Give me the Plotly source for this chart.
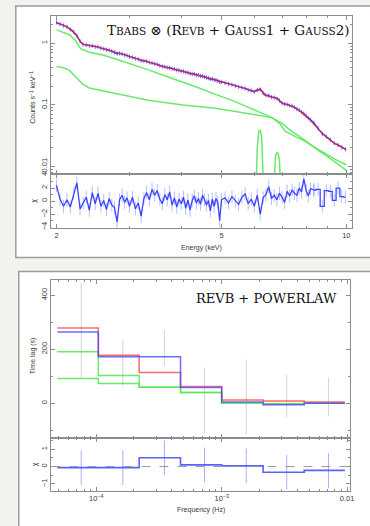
import math
import plotly.graph_objects as go

# ---------------- top panel: X-ray spectrum ----------------
energy = [2.00, 2.04, 2.08, 2.12, 2.16, 2.20, 2.24, 2.28, 2.32, 2.36, 2.40, 2.44, 2.48, 2.52, 2.56,
          2.60, 2.64, 2.68, 2.72, 2.76, 2.80, 2.84, 2.88, 2.92, 2.96, 3.00,
          3.05, 3.10, 3.15, 3.20, 3.25, 3.30, 3.35, 3.40, 3.45, 3.50, 3.55, 3.60, 3.65, 3.70,
          3.75, 3.80, 3.85, 3.90, 3.95, 4.00, 4.05, 4.10, 4.15, 4.20, 4.25, 4.30, 4.35, 4.40,
          4.45, 4.50, 4.55, 4.60, 4.65, 4.70, 4.75, 4.80, 4.85, 4.90, 4.95, 5.00,
          5.1, 5.2, 5.3, 5.4, 5.5, 5.6, 5.7, 5.8, 5.9, 6.0, 6.1, 6.2, 6.3, 6.4, 6.5, 6.6,
          6.7, 6.8, 6.9, 7.0, 7.1, 7.2, 7.3, 7.4, 7.5, 7.6, 7.7, 7.8, 7.9, 8.0, 8.1, 8.2,
          8.35, 8.55, 8.75, 8.95, 9.15, 9.35, 9.55, 9.75, 9.95]
counts = [2.20, 2.06, 1.95, 1.86, 1.69, 1.54, 1.34, 1.08, 0.96, 0.945, 0.905, 0.915, 0.878, 0.876,
          0.838, 0.821, 0.790, 0.774, 0.744, 0.720, 0.680, 0.690, 0.677, 0.649, 0.636, 0.608,
          0.594, 0.565, 0.553, 0.525, 0.522, 0.511, 0.490, 0.482, 0.465, 0.455, 0.437, 0.422,
          0.416, 0.405, 0.402, 0.386, 0.382, 0.369, 0.366, 0.356, 0.351, 0.339, 0.336, 0.323,
          0.321, 0.317, 0.307, 0.305, 0.296, 0.293, 0.286, 0.277, 0.273, 0.264, 0.264, 0.255,
          0.253, 0.247, 0.237, 0.237,
          0.229, 0.219, 0.214, 0.204, 0.196, 0.191, 0.185, 0.176, 0.172, 0.164, 0.176, 0.178,
          0.157, 0.144, 0.142, 0.134, 0.132, 0.127, 0.118, 0.107, 0.103, 0.102, 0.098, 0.0965,
          0.0908, 0.0858, 0.0825, 0.0762, 0.0722, 0.0662, 0.0608, 0.0572,
          0.0512, 0.0415, 0.0340, 0.0305, 0.0273, 0.0238, 0.0224, 0.0203, 0.0190]
chi = [2.4, 0.3, -0.8, 0.2, -0.9, 1.2, 2.8, -1.2, -0.3, 0.6, -1.4, 1.3, -0.4, 1.2, -0.8, 0.1,
       -1.3, 0.4, -0.6, -1.0, -3.2, 0.2, 0.9, -0.2, 0.5, -0.8,
       0.6, -1.2, -0.3, -2.3, 0.4, 1.3, 0.2, 1.8, 0.9, 1.6, 0.3, -0.4, 1.0, 0.2, 1.4, -0.6,
       0.5, -0.9, 0.3, -0.4, 0.6, -1.1, 0.2, -1.4, 0.1, 0.8, -0.3, 0.4, -0.5, 0.9, 0.2, -0.6,
       0.1, -1.5, 0.3, -0.8, 0.4, -0.2, -3.0, 0.2,
       0.5, -0.3, 0.7, 0.0, -0.5, 0.6, 1.1, -0.4, 0.3, -0.8, 0.9, -2.0, 0.5, 1.0, 2.2, 0.4,
       0.9, 0.2, 1.2, 0.6, -0.2, 1.5, 0.8, 1.7, 1.2, 0.9, 2.0, 1.4, 3.4, 1.6, 0.8, 1.9,
       1.7, 1.8, -0.8, 1.6, 1.5, 0.1, 2.0, 0.7, 0.6]

model_energy = [2.00, 2.09, 2.17, 2.24, 2.31, 2.40, 2.53, 2.78, 3.04, 3.33, 3.66, 4.04, 4.39, 4.84,
                5.32, 5.78, 6.03, 6.12, 6.20, 6.28, 6.34, 6.63, 6.75, 6.81, 6.88, 7.00, 7.40, 7.69,
                8.12, 8.58, 8.97, 9.37, 9.73, 10.0]
model_counts = [2.13, 1.95, 1.68, 1.30, 0.97, 0.918, 0.862, 0.716, 0.595, 0.494, 0.410, 0.350,
                0.305, 0.253, 0.210, 0.178, 0.165, 0.172, 0.185, 0.160, 0.145, 0.132, 0.128, 0.130,
                0.118, 0.106, 0.0946, 0.0815, 0.0595, 0.0395, 0.0294, 0.0235, 0.0202, 0.0186]

revb1_energy = [2.00, 2.08, 2.15, 2.22, 2.29, 2.40, 2.60, 2.78, 3.04, 3.33, 3.66, 4.04, 4.40, 4.84,
                5.32, 5.83, 6.20, 6.63, 6.90, 7.13, 7.50, 8.00, 8.41, 9.00, 9.50, 10.0]
revb1 = [1.66, 1.52, 1.38, 1.12, 0.81, 0.716, 0.64, 0.558, 0.46, 0.37, 0.295, 0.235, 0.19, 0.148,
         0.117, 0.090, 0.076, 0.062, 0.050, 0.037, 0.031, 0.025, 0.0202, 0.0155, 0.0125, 0.0106]
revb2_energy = [2.00, 2.08, 2.15, 2.22, 2.31, 2.40, 2.78, 3.33, 4.04, 4.84, 5.83, 6.30, 6.60, 7.00,
                7.40, 7.80, 8.41, 9.00, 9.50, 10.0]
revb2 = [0.42, 0.40, 0.363, 0.29, 0.22, 0.188, 0.152, 0.119, 0.099, 0.088, 0.0716, 0.066, 0.062,
         0.050, 0.0367, 0.029, 0.0197, 0.0145, 0.011, 0.0086]
gauss1_energy = [5.95, 6.00, 6.05, 6.10, 6.15, 6.20, 6.25, 6.30, 6.35, 6.40, 6.45]
gauss1 = [1e-4, 6e-4, 0.005, 0.02, 0.037, 0.039, 0.03, 0.012, 0.003, 4e-4, 1e-4]
gauss2_energy = [6.60, 6.65, 6.70, 6.75, 6.80, 6.85, 6.90, 6.95, 7.00, 7.05]
gauss2 = [1e-4, 1e-3, 0.006, 0.015, 0.0165, 0.0165, 0.012, 0.004, 5e-4, 1e-4]

# ---------------- bottom panel: time lags ----------------
freq_edges = [4.9e-5, 1.04e-4, 2.2e-4, 4.7e-4, 1.0e-3, 2.14e-3, 4.55e-3, 9.6e-3]
freq_center = [7.6e-5, 1.63e-4, 3.5e-4, 7.3e-4, 1.57e-3, 3.3e-3, 7.1e-3]
lag_red = [279, 178, 114, 62, 12, 8, 5]
lag_blue = [264, 172, 172, 58, 5, -6, 0]
lag_green1 = [191, 103, 59, 40, 0, -2, 0]
lag_green2 = [92, 73, 59, 40, 0, -2, 0]
lag_data = [270, 150, 205, 9, 24, 27, 24]
lag_err = [175, 85, 65, 123, 138, 79, 72]
lag_chi = [-0.06, -0.06, 0.51, 0.10, 0.04, -0.33, -0.22]

W, H = 370, 526
def px(x):
    return x / W
def py(y):
    return 1 - y / H

BLUE = "rgba(30,40,255,0.85)"
BLUE_ERR = "rgba(90,110,255,0.45)"
BLUE_ERR_MAIN = "rgba(50,70,255,0.7)"
RED = "rgba(235,30,60,0.9)"
GREEN = "rgba(90,232,90,0.9)"
AX = "#8c8c8c"
TXT = "#3a3a3a"

fig = go.Figure()

# spectrum data
fig.add_trace(go.Scatter(x=energy, y=counts, mode="lines", line=dict(color=BLUE, width=1.4),
                         error_y=dict(type="percent", value=8, color=BLUE_ERR_MAIN, thickness=1, width=0),
                         xaxis="x", yaxis="y", showlegend=False))
for ex, ey in [(revb1_energy, revb1), (revb2_energy, revb2), (gauss1_energy, gauss1), (gauss2_energy, gauss2)]:
    fig.add_trace(go.Scatter(x=ex, y=ey, mode="lines", line=dict(color=GREEN, width=1.5),
                             xaxis="x", yaxis="y", showlegend=False))
fig.add_trace(go.Scatter(x=model_energy, y=model_counts, mode="lines", line=dict(color=RED, width=1.2),
                         xaxis="x", yaxis="y", showlegend=False))
# residuals: dense bins as a jagged line, wide high-energy bins as steps
n_dense = 98
fig.add_trace(go.Scatter(x=energy[:n_dense + 1], y=chi[:n_dense + 1], mode="lines",
                         line=dict(color=BLUE, width=1.3),
                         error_y=dict(type="constant", value=1, color=BLUE_ERR, thickness=1, width=0),
                         xaxis="x2", yaxis="y2", showlegend=False))
fig.add_trace(go.Scatter(x=energy[n_dense:], y=chi[n_dense:], mode="lines",
                         line=dict(color=BLUE, width=1.3, shape="hvh"),
                         error_y=dict(type="constant", value=1, color=BLUE_ERR, thickness=1, width=0),
                         xaxis="x2", yaxis="y2", showlegend=False))

# lag panel
def step(vals):
    return vals + [vals[-1]]

fig.add_trace(go.Scatter(x=freq_center, y=lag_data, mode="markers", marker=dict(size=1, color="rgba(0,0,0,0)"),
                         error_y=dict(type="data", array=lag_err, color="rgba(170,170,170,0.5)", thickness=1, width=0),
                         xaxis="x3", yaxis="y3", showlegend=False))
for vals, col in [(lag_green2, GREEN), (lag_green1, GREEN), (lag_red, "rgba(255,70,70,0.8)"), (lag_blue, "rgba(70,70,255,0.8)")]:
    fig.add_trace(go.Scatter(x=freq_edges, y=step(vals), mode="lines", line=dict(color=col, width=1.5, shape="hv"),
                             xaxis="x3", yaxis="y3", showlegend=False))
fig.add_trace(go.Scatter(x=freq_center, y=lag_chi, mode="markers", marker=dict(size=1, color="rgba(0,0,0,0)"),
                         error_y=dict(type="constant", value=1, color="rgba(110,120,255,0.6)", thickness=1, width=0),
                         xaxis="x4", yaxis="y4", showlegend=False))
fig.add_trace(go.Scatter(x=freq_edges, y=step(lag_chi), mode="lines", line=dict(color="rgba(60,70,255,0.85)", width=1.6, shape="hv"),
                         xaxis="x4", yaxis="y4", showlegend=False))

tickfont = dict(size=7.5, color=TXT, family="Liberation Sans")
base = dict(showline=True, linecolor=AX, linewidth=1, mirror="allticks", ticks="inside", ticklen=4,
            tickcolor=AX, showgrid=False, zeroline=False, tickfont=tickfont)
minor_style = dict(ticks="inside", ticklen=2, tickcolor=AX, showgrid=False)

e_minor = [3, 4, 6, 7, 8, 9]
c_minor = [m * d for d in (0.001, 0.01, 0.1, 1) for m in range(2, 10)]
f_minor = [m * d for d in (1e-5, 1e-4, 1e-3) for m in range(2, 10)]

xd1 = [px(52), px(356)]
xd2 = [px(52), px(354)]
erange = [math.log10(1.945), math.log10(10.33)]
frange = [math.log10(4.4e-5), math.log10(0.01057)]

fig.update_layout(
    width=W, height=H, margin=dict(l=0, r=0, t=0, b=0),
    paper_bgcolor="#f4f2ec", plot_bgcolor="white",
    xaxis=dict(base, domain=xd1, anchor="y", type="log", range=erange, tickmode="array",
               tickvals=[2, 5, 10], showticklabels=False,
               minor=dict(minor_style, tickmode="array", tickvals=e_minor)),
    yaxis=dict(base, domain=[py(173), py(13)], anchor="x", type="log",
               range=[math.log10(0.0074), math.log10(2.8)], tickmode="array",
               tickvals=[0.01, 0.1, 1], ticktext=["0.01", "0.1", "1"], tickangle=-90,
               minor=dict(minor_style, tickmode="array", tickvals=c_minor)),
    xaxis2=dict(base, domain=xd1, anchor="y2", type="log", range=erange, tickmode="array",
                tickvals=[2, 5, 10], ticktext=["2", "5", "10"],
                minor=dict(minor_style, tickmode="array", tickvals=e_minor)),
    yaxis2=dict(base, domain=[py(227), py(173)], anchor="x2", range=[-4.1, 4.1],
                tickmode="array", tickvals=[-4, -2, 0, 2, 4], tickangle=-90,
                minor=dict(minor_style, dtick=1)),
    xaxis3=dict(base, domain=xd2, anchor="y3", type="log", range=frange, tickmode="array",
                tickvals=[1e-4, 1e-3, 1e-2], showticklabels=False,
                minor=dict(minor_style, tickmode="array", tickvals=f_minor)),
    yaxis3=dict(base, domain=[py(439), py(280)], anchor="x3", range=[-128, 455],
                tickmode="array", tickvals=[0, 200, 400], tickangle=-90,
                minor=dict(minor_style, dtick=100)),
    xaxis4=dict(base, domain=xd2, anchor="y4", type="log", range=frange, tickmode="array",
                tickvals=[1e-4, 1e-3, 1e-2], ticktext=["10<sup>−4</sup>", "10<sup>−3</sup>", "0.01"],
                minor=dict(minor_style, tickmode="array", tickvals=f_minor)),
    yaxis4=dict(base, domain=[py(493), py(439)], anchor="x4", range=[-1.43, 1.66],
                tickmode="array", tickvals=[-1, 0, 1], tickangle=-90,
                minor=dict(minor_style, dtick=0.5)),
)

shapes = [
    dict(type="rect", xref="paper", yref="paper", x0=px(16), x1=1.05, y0=py(257), y1=py(3),
         fillcolor="white", line=dict(color="#9c9c9c", width=1.5), layer="below"),
    dict(type="rect", xref="paper", yref="paper", x0=px(19), x1=1.05, y0=-0.05, y1=py(271),
         fillcolor="white", line=dict(color="#9c9c9c", width=1.5), layer="below"),
    dict(type="line", xref="x4 domain", yref="y4", x0=0, x1=1, y0=0, y1=0,
         line=dict(color="#9a9a9a", width=1, dash="dash")),
]
fig.update_layout(shapes=shapes)

lab = dict(size=7, color=TXT, family="Liberation Sans")
sc = "font-size:10.5px"
title_top = ("T<span style='%s'>BABS</span> ⊗ (R<span style='%s'>EVB</span> + G<span style='%s'>AUSS</span>1"
             " + G<span style='%s'>AUSS</span>2)") % (sc, sc, sc, sc)
annotations = [
    dict(text="Counts s<sup>−1</sup> keV<sup>−1</sup>", x=px(33), y=py(95), textangle=-90, font=lab),
    dict(text="χ", x=px(34), y=py(200), textangle=-90, font=lab),
    dict(text="Energy (keV)", x=px(204), y=py(247), font=lab),
    dict(text="Time lag (s)", x=px(33), y=py(356), textangle=-90, font=lab),
    dict(text="χ", x=px(35), y=py(466), textangle=-90, font=lab),
    dict(text="Frequency (Hz)", x=px(203), y=py(512), font=lab),
    dict(text=title_top, x=px(231), y=py(27), font=dict(size=13.5, color="#111", family="DejaVu Serif")),
    dict(text="REVB + POWERLAW", x=px(269), y=py(298), font=dict(size=13, color="#111", family="DejaVu Serif")),
]
for a in annotations:
    a.update(xref="paper", yref="paper", showarrow=False, xanchor="center", yanchor="middle")
fig.update_layout(annotations=annotations)

fig.write_html("out.html", config={"displayModeBar": False},
               post_script="document.body.style.margin='0';document.body.style.overflow='hidden';")
